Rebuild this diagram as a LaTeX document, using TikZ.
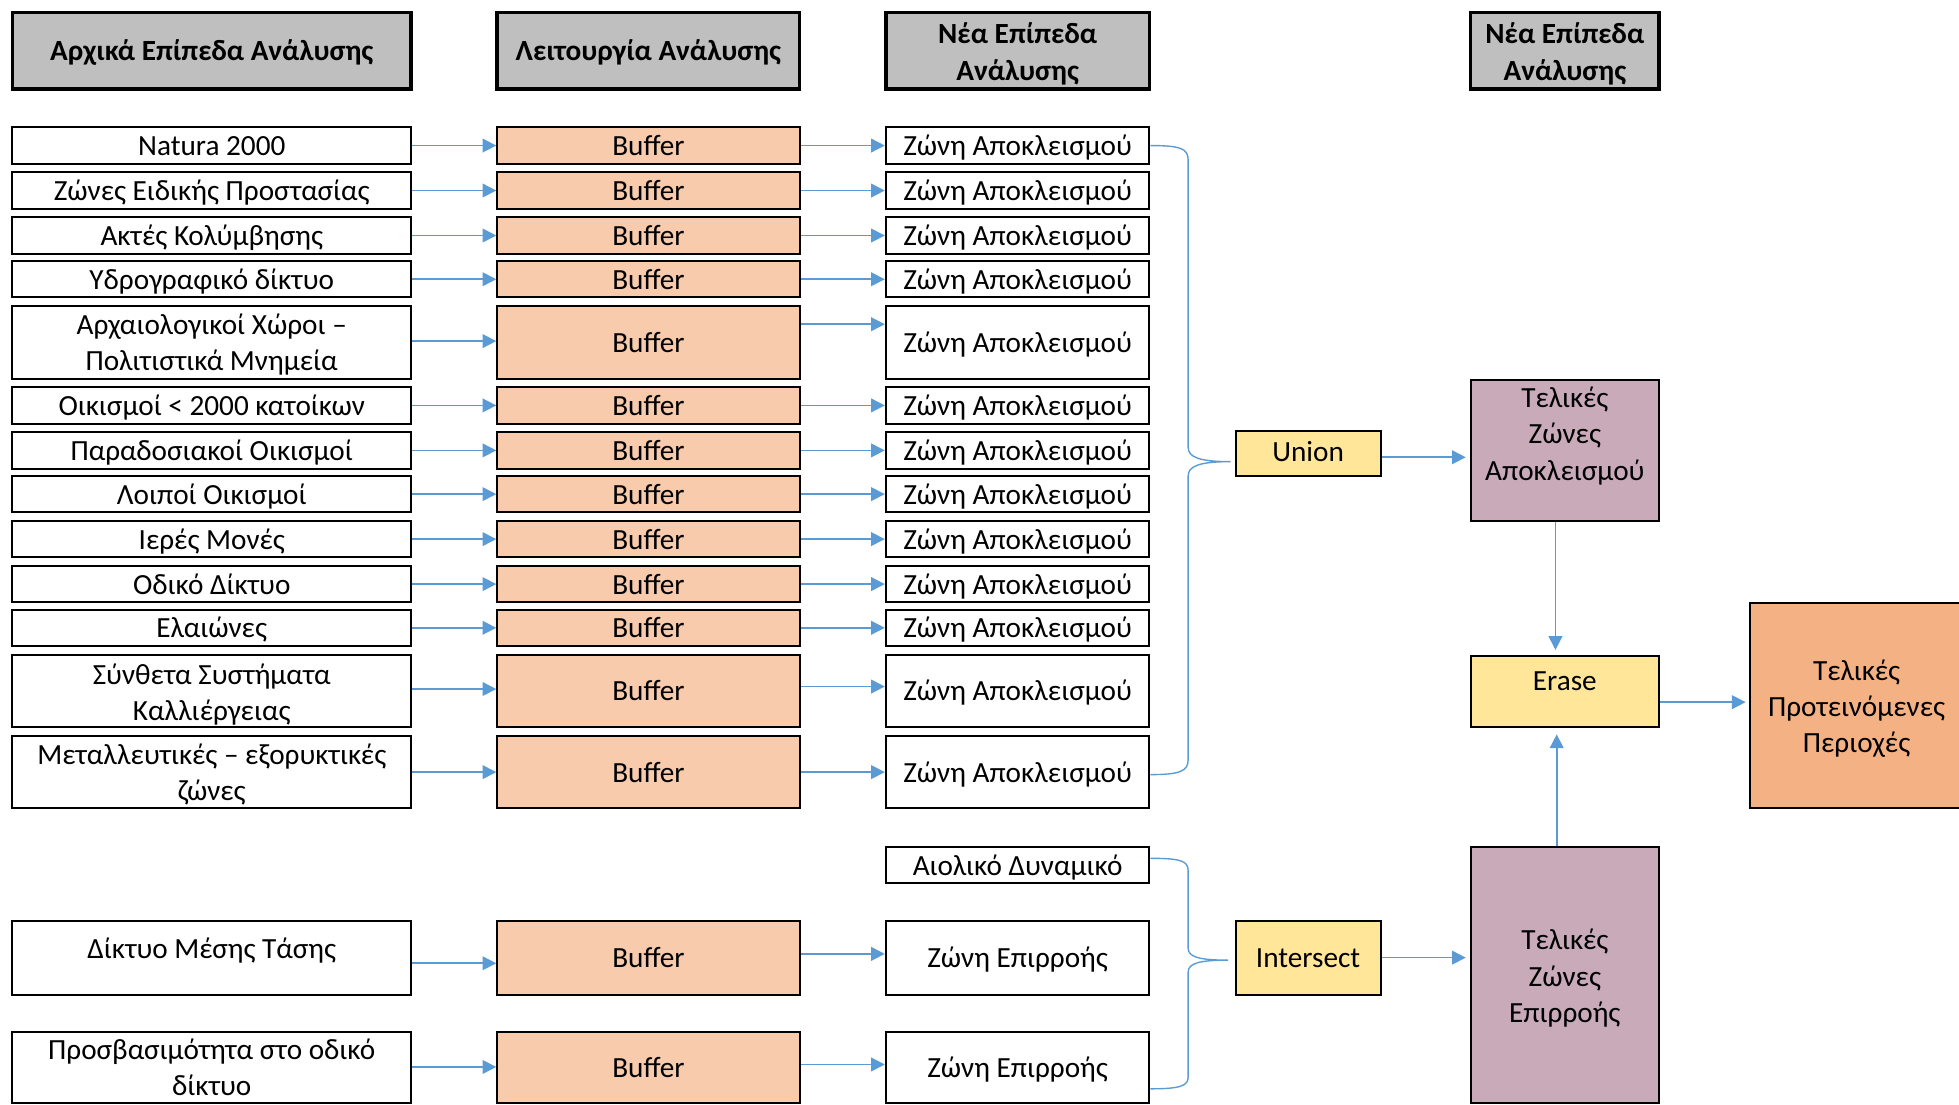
\documentclass[tikz,border=0pt]{standalone}
\usepackage{fontspec}
\setmainfont{Carlito}
\usetikzlibrary{arrows.meta}
\definecolor{hdr}{HTML}{BFBFBF}
\definecolor{buf}{HTML}{F8CBAD}
\definecolor{yel}{HTML}{FFE699}
\definecolor{mauve}{HTML}{C9AAB8}
\definecolor{fin}{HTML}{F4B183}
\definecolor{blu}{HTML}{5B9BD5}
\newcommand\txtdown{\rule{0pt}{20.5pt}}
\newcommand\txtdownh{\rule{0pt}{22pt}}
\begin{document}
\begin{tikzpicture}[x=1pt,y=-1pt,
  every node/.style={font=\fontsize{23.4}{29}\selectfont, align=center, inner sep=0pt},
  sl/.style={text height=18.5pt, text depth=2.5pt},
  box/.style={draw=black, line width=1.6pt, fill=white},
  hdrbox/.style={draw=black, line width=3pt, fill=hdr, font=\fontsize{23.4}{29}\selectfont\bfseries, minimum height=61pt},
  c1/.style={box, minimum width=319pt},
  c2/.style={box, fill=buf, minimum width=242pt, sl},
  c3/.style={box, minimum width=211pt, sl},
  one/.style={minimum height=29pt, sl},
  two/.style={minimum height=58pt},
  opbox/.style={box, fill=yel, minimum width=116pt},
  resbox/.style={box, fill=mauve, minimum width=151pt},
  arr/.style={draw=blu, line width=1.3pt, -{Triangle[length=11pt,width=11pt]}},
  brace/.style={draw=blu, line width=1.1pt}
]
\path[use as bounding box] (0,0) rectangle (1568,884);
\clip (0,0) rectangle (1568,884);
\fill[white] (0,0) rectangle (1568,884);

% headers
\node[hdrbox, sl, minimum width=319pt] (h1) at (169.5,40.5) {Αρχικά Επίπεδα Ανάλυσης};
\node[hdrbox, sl, minimum width=242pt] (h2) at (519,40.5) {Λειτουργία Ανάλυσης};
\node[hdrbox, minimum width=211pt] (h3) at (814.5,40.5) {\txtdownh Νέα Επίπεδα\\Ανάλυσης};
\node[hdrbox, minimum width=151pt] (h4) at (1252.5,40.5) {\txtdownh Νέα Επίπεδα\\Ανάλυσης};

% first column
\node[c1, one] (a1) at (169.5,116.5) {Natura 2000};
\node[c1, one] (a2) at (169.5,152.5) {Ζώνες Ειδικής Προστασίας};
\node[c1, one] (a3) at (169.5,188.5) {Ακτές Κολύμβησης};
\node[c1, one] (a4) at (169.5,223.5) {Υδρογραφικό δίκτυο};
\node[c1, two] (a5) at (169.5,274) {\txtdown Αρχαιολογικοί Χώροι –\\Πολιτιστικά Μνημεία};
\node[c1, one] (a6) at (169.5,324.5) {Οικισμοί < 2000 κατοίκων};
\node[c1, one] (a7) at (169.5,360.5) {Παραδοσιακοί Οικισμοί};
\node[c1, one] (a8) at (169.5,395.5) {Λοιποί Οικισμοί};
\node[c1, one] (a9) at (169.5,431.5) {Ιερές Μονές};
\node[c1, one] (a10) at (169.5,467.5) {Οδικό Δίκτυο};
\node[c1, one] (a11) at (169.5,502.5) {Ελαιώνες};
\node[c1, two] (a12) at (169.5,553) {\txtdownh Σύνθετα Συστήματα\\Καλλιέργειας};
\node[c1, two] (a13) at (169.5,618) {\txtdown Μεταλλευτικές – εξορυκτικές\\ζώνες};

% buffer and zone columns with arrows
\foreach \i/\y/\h/\s/\t in {1/116.5/one/0/0, 2/152.5/one/0/0, 3/188.5/one/0/0, 4/223.5/one/0/0,
    5/274/two/1/14.5, 6/324.5/one/0/0, 7/360.5/one/0/0, 8/395.5/one/0/0, 9/431.5/one/0/0,
    10/467.5/one/0/0, 11/502.5/one/0/0, 12/553/two/1.5/3.5, 13/618/two/0/0} {
  \node[c2, \h] (b\i) at (519,\y) {Buffer};
  \node[c3, \h] (z\i) at (814.5,\y) {Ζώνη Αποκλεισμού};
  \draw[arr] ([yshift=\s pt]a\i.east) -- ([yshift=\s pt]b\i.west);
  \draw[arr] ([yshift=\t pt]b\i.east) -- ([yshift=\t pt]z\i.west);
}

% lower part
\node[c3, one] (wind) at (814.5,692.5) {Αιολικό Δυναμικό};
\node[c1, minimum height=59pt, text height=16pt, text depth=14pt] (mv) at (169.5,766.5) {Δίκτυο Μέσης Τάσης};
\node[c2, minimum height=59pt] (mvb) at (519,766.5) {Buffer};
\node[c3, minimum height=59pt] (mvz) at (814.5,766.5) {Ζώνη Επιρροής};
\node[c1, minimum height=57pt] (acc) at (169.5,854.5) {Προσβασιμότητα στο οδικό\\δίκτυο};
\node[c2, minimum height=57pt] (accb) at (519,854.5) {Buffer};
\node[c3, minimum height=57pt] (accz) at (814.5,854.5) {Ζώνη Επιρροής};
\draw[arr] ([yshift=-4.5pt]mv.east) -- ([yshift=-4.5pt]mvb.west);
\draw[arr] ([yshift=3pt]mvb.east) -- ([yshift=3pt]mvz.west);
\draw[arr] ([yshift=0.5pt]acc.east) -- ([yshift=0.5pt]accb.west);
\draw[arr] ([yshift=2.5pt]accb.east) -- ([yshift=2.5pt]accz.west);

% operations and results
\node[opbox, minimum height=36pt, text height=17pt, text depth=4pt] (union) at (1047,363) {Union};
\node[opbox, minimum height=59pt, sl] (inter) at (1047,766.5) {Intersect};
\node[resbox, minimum height=113pt] (tza) at (1252.5,360.5) {};
\node (tzatxt) at (1252.5,349) {Τελικές\\Ζώνες\\Αποκλεισμού};
\node[box, fill=yel, minimum width=151pt, minimum height=57pt] (erase) at (1252.5,553.5) {};
\node[sl] (erasetxt) at (1252.5,545) {Erase};
\node[resbox, minimum height=205pt] (tze) at (1252.5,780.5) {};
\node (tzetxt) at (1252.5,783) {Τελικές\\Ζώνες\\Επιρροής};
\node[box, fill=fin, minimum width=170pt, minimum height=164pt] (final) at (1486,565) {\txtdown Τελικές\\Προτεινόμενες\\Περιοχές};

% braces
\coordinate (tipU) at (985,369.5);
\draw[brace] (z1.east) .. controls (945,116.5) and (951,119) .. (951,128) -- (951,358)
  .. controls (951,366) and (960,369.5) .. (tipU)
  .. controls (960,369.5) and (951,373) .. (951,381) -- (951,608)
  .. controls (951,617) and (945,620) .. ([yshift=-2pt]z13.east);
\coordinate (tipI) at (983,768.5);
\draw[brace] ([yshift=5.5pt]wind.east) .. controls (945,687) and (951,689) .. (951,697) -- (951,759)
  .. controls (951,766) and (960,768.5) .. (tipI)
  .. controls (960,768.5) and (951,771) .. (951,778) -- (951,862)
  .. controls (951,869) and (945,871.5) .. ([yshift=-17pt]accz.east);

% right-side arrows
\draw[arr, shorten >=3pt] ([yshift=-3pt]union.east) -- ([yshift=-3pt]union.east -| tza.west);
\draw[arr, shorten >=3pt] (inter.east) -- (inter.east -| tze.west);
\draw[arr, shorten >=4pt] ([xshift=-7.5pt]tza.south) -- ([xshift=-7.5pt]erase.north);
\draw[arr, shorten >=5pt] ([xshift=-6.5pt]tze.north) -- ([xshift=-6.5pt]erase.south);
\draw[arr, shorten >=3pt] ([yshift=-8.5pt]erase.east) -- ([yshift=-8.5pt]erase.east -| final.west);
\end{tikzpicture}
\end{document}
